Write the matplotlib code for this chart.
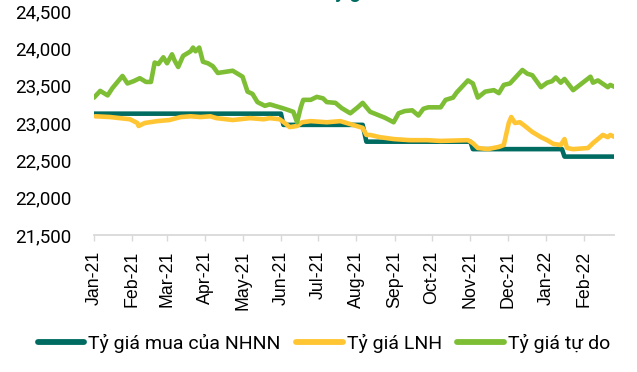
import matplotlib
matplotlib.use("Agg")
import matplotlib.pyplot as plt
import matplotlib.dates as mdates
import matplotlib.ticker as mticker
import numpy as np

# ----- data (VND per USD) -----
NHNN_DATES = ["2021-01-01", "2021-06-01", "2021-06-03", "2021-08-06", "2021-08-09",
              "2021-11-01", "2021-11-03", "2022-01-14", "2022-01-16", "2022-02-26"]
NHNN_VALUES = [23125, 23125, 22975, 22975, 22750,
               22750, 22650, 22650, 22550, 22550]

LNH_DATES = ["2021-01-02", "2021-01-14", "2021-01-22", "2021-01-30", "2021-02-05",
             "2021-02-06", "2021-02-11", "2021-02-21", "2021-03-03", "2021-03-12",
             "2021-03-20", "2021-03-28", "2021-04-05", "2021-04-10", "2021-04-23",
             "2021-05-07", "2021-05-18", "2021-05-23", "2021-05-31", "2021-06-04",
             "2021-06-08", "2021-06-14", "2021-06-18", "2021-06-25", "2021-07-08",
             "2021-07-19", "2021-07-29", "2021-08-06", "2021-08-09", "2021-08-12",
             "2021-08-20", "2021-08-31", "2021-09-13", "2021-09-27", "2021-10-08",
             "2021-10-30", "2021-11-03", "2021-11-07", "2021-11-15", "2021-11-24",
             "2021-11-28", "2021-12-02", "2021-12-04", "2021-12-07", "2021-12-11",
             "2021-12-15", "2021-12-21", "2021-12-28", "2022-01-02", "2022-01-07",
             "2022-01-13", "2022-01-16", "2022-01-18", "2022-01-23", "2022-02-04",
             "2022-02-08", "2022-02-12", "2022-02-16", "2022-02-20", "2022-02-22",
             "2022-02-26"]
LNH_VALUES = [23090, 23080, 23065, 23050, 23000,
              22960, 23000, 23025, 23040, 23080,
              23090, 23080, 23090, 23065, 23040,
              23065, 23050, 23065, 23050, 23000,
              22945, 22960, 23010, 23025, 23010,
              23025, 22975, 22935, 22840, 22840,
              22810, 22785, 22770, 22770, 22760,
              22770, 22730, 22665, 22650, 22680,
              22705, 23000, 23080, 23000, 23010,
              22960, 22880, 22810, 22770, 22720,
              22705, 22785, 22665, 22650, 22665,
              22730, 22785, 22840, 22810, 22840,
              22810]

TUDO_DATES = ["2021-01-01", "2021-01-06", "2021-01-09", "2021-01-12", "2021-01-16",
              "2021-01-24", "2021-01-28", "2021-02-02", "2021-02-07", "2021-02-12",
              "2021-02-16", "2021-02-19", "2021-02-22", "2021-02-26", "2021-03-01",
              "2021-03-05", "2021-03-07", "2021-03-10", "2021-03-14", "2021-03-20",
              "2021-03-22", "2021-03-24", "2021-03-27", "2021-03-30", "2021-04-03",
              "2021-04-07", "2021-04-11", "2021-04-15", "2021-04-23", "2021-04-27",
              "2021-05-01", "2021-05-05", "2021-05-09", "2021-05-13", "2021-05-19",
              "2021-05-23", "2021-05-31", "2021-06-04", "2021-06-11", "2021-06-14",
              "2021-06-17", "2021-06-19", "2021-06-25", "2021-06-30", "2021-07-05",
              "2021-07-08", "2021-07-15", "2021-07-20", "2021-07-27", "2021-08-02",
              "2021-08-06", "2021-08-12", "2021-08-18", "2021-08-24", "2021-08-31",
              "2021-09-04", "2021-09-09", "2021-09-15", "2021-09-20", "2021-09-24",
              "2021-09-28", "2021-10-04", "2021-10-08", "2021-10-12", "2021-10-18",
              "2021-10-21", "2021-10-30", "2021-11-03", "2021-11-07", "2021-11-13",
              "2021-11-20", "2021-11-24", "2021-11-28", "2021-12-03", "2021-12-13",
              "2021-12-17", "2021-12-21", "2021-12-28", "2022-01-02", "2022-01-06",
              "2022-01-09", "2022-01-13", "2022-01-16", "2022-01-23", "2022-02-06",
              "2022-02-08", "2022-02-12", "2022-02-20", "2022-02-22", "2022-02-26"]
TUDO_VALUES = [23340, 23430, 23400, 23370, 23470,
               23630, 23530, 23560, 23600, 23550,
               23550, 23810, 23790, 23880, 23800,
               23920, 23840, 23750, 23900, 23960,
               24010, 23960, 24010, 23820, 23800,
               23760, 23670, 23680, 23700, 23660,
               23620, 23420, 23390, 23280, 23230,
               23250, 23210, 23190, 23150, 23010,
               23210, 23310, 23310, 23350, 23330,
               23280, 23270, 23200, 23130, 23210,
               23270, 23150, 23110, 23070, 23010,
               23130, 23160, 23170, 23100, 23190,
               23210, 23210, 23210, 23310, 23340,
               23410, 23570, 23530, 23340, 23420,
               23440, 23400, 23510, 23530, 23710,
               23660, 23640, 23480, 23540, 23560,
               23610, 23540, 23590, 23440, 23620,
               23540, 23570, 23480, 23510, 23480]

LABELS = ["Tỷ giá mua của NHNN", "Tỷ giá LNH", "Tỷ giá tự do"]
COLORS = ["#006B61", "#FFC532", "#7DBE35"]
Y_TICKS = [21500, 22000, 22500, 23000, 23500, 24000, 24500]

W, H = 637, 372


def to_dates(seq):
    return np.array(seq, dtype="datetime64[D]")


def main():
    plt.rcParams["font.family"] = ["Roboto", "DejaVu Sans"]
    fig = plt.figure(figsize=(W / 100, H / 100), dpi=100)
    ax = fig.add_axes([94 / W, 1 - 235 / H, (614 - 94) / W, (235 - 11) / H])

    series = [(NHNN_DATES, NHNN_VALUES), (LNH_DATES, LNH_VALUES),
              (TUDO_DATES, TUDO_VALUES)]
    for (d, v), lab, col in zip(series, LABELS, COLORS):
        ax.plot(to_dates(d), v, color=col, lw=3.3, label=lab,
                solid_joinstyle="round", solid_capstyle="round")

    ax.set_xlim(np.datetime64("2021-01-01"), np.datetime64("2022-02-25"))
    ax.set_ylim(21500, 24500)
    ax.set_yticks(Y_TICKS)
    ax.yaxis.set_major_formatter(mticker.FuncFormatter(lambda v, _: f"{v:,.0f}"))
    ax.tick_params(axis="y", length=0, pad=16, labelsize=13.5, labelcolor="#000000")

    ax.xaxis.set_major_locator(mdates.MonthLocator())
    ax.xaxis.set_major_formatter(mdates.DateFormatter("%b-%y"))
    ax.tick_params(axis="x", direction="out", length=4, width=1, color="#D9D9D9",
                   pad=7, labelrotation=90, labelsize=12.8)
    for t in ax.get_xticklabels():
        t.set_family(["Liberation Sans", "DejaVu Sans"])

    for s in ["top", "right", "left"]:
        ax.spines[s].set_visible(False)
    ax.spines["bottom"].set_color("#D9D9D9")
    ax.spines["bottom"].set_linewidth(1.3)
    ax.spines["bottom"].set_zorder(0)

    leg = fig.legend(loc="center", bbox_to_anchor=(324 / W, 1 - 343 / H), ncol=3,
                     frameon=False, fontsize=14, handlelength=2.4,
                     handletextpad=0.2, columnspacing=0.8, borderaxespad=0)
    for h in leg.legend_handles:
        h.set_linewidth(4.2)

    # title sits mostly above the canvas in the reference; only descenders show
    fig.text(350 / W, 1 + 2 / H, "Tỷ giá", ha="center", va="baseline",
             fontsize=14, fontweight="bold", color="#006B61")

    fig.savefig("out.png", dpi=100)


if __name__ == "__main__":
    main()
